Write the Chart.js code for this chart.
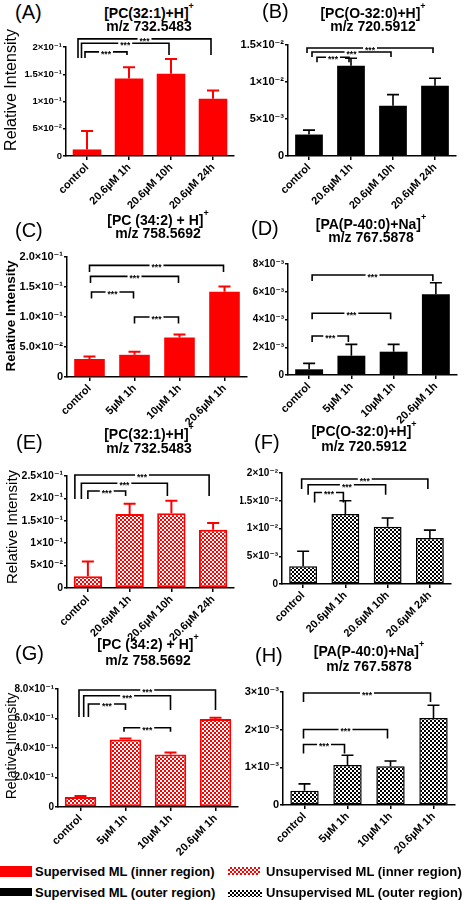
<!DOCTYPE html>
<html>
<head>
<meta charset="utf-8">
<script src="https://cdn.jsdelivr.net/npm/chart.js@4.4.1/dist/chart.umd.min.js"></script>
<style>
html,body{margin:0;padding:0;background:#fff;}
body{width:465px;height:900px;position:relative;overflow:hidden;font-family:"Liberation Sans",Arial,sans-serif;color:#000;}
canvas{position:absolute;}
.ttl{position:absolute;font-weight:bold;font-size:14px;line-height:14px;white-space:nowrap;transform:translate(-50%,-50%);}
.ttl sup{font-size:9px;line-height:0;position:relative;top:0px;vertical-align:top;}
.let{position:absolute;font-size:20px;line-height:20px;transform:translate(0,-50%);white-space:nowrap;}
.ri{position:absolute;white-space:nowrap;transform:translate(-50%,-50%) rotate(-90deg);line-height:1;}
.lg{position:absolute;font-weight:bold;font-size:13px;line-height:13px;white-space:nowrap;transform:translate(0,-50%);}
.sw{position:absolute;}
</style>
</head>
<body>
<script>
const FONT = '"Liberation Sans", Arial, "DejaVu Sans", sans-serif';

// ---------- categories ----------
const timeLabels = ['control', '20.6µM 1h', '20.6µM 10h', '20.6µM 24h'];
const doseLabels = ['control', '5µM 1h', '10µM 1h', '20.6µM 1h'];

// ---------- (A) supervised inner, PC(32:1) ----------
const valA = [0.012, 0.142, 0.151, 0.105];
const semA = [0.034, 0.021, 0.027, 0.015];
const tickA = [0, 0.05, 0.10, 0.15, 0.20];
const tickLabA = ['0', '5×10⁻²', '1×10⁻¹', '1.5×10⁻¹', '2×10⁻¹'];
const sigA = [[0, 1, 0.191], [0, 2, 0.207], [0, 3, 0.215]];

// ---------- (B) supervised outer, PC(O-32:0) ----------
const valB = [0.0029, 0.0122, 0.0068, 0.0095];
const semB = [0.0006, 0.0010, 0.0015, 0.0010];
const tickB = [0, 0.005, 0.010, 0.015];
const tickLabB = ['0', '5×10⁻³', '1×10⁻²', '1.5×10⁻²'];
const sigB = [[0, 1, 0.01334], [0, 2, 0.01405], [0, 3, 0.01459]];

// ---------- (C) supervised inner, PC(34:2) ----------
const valC = [0.030, 0.037, 0.066, 0.142];
const semC = [0.004, 0.005, 0.005, 0.009];
const tickC = [0, 0.05, 0.10, 0.15, 0.20];
const tickLabC = ['0', '5.0×10⁻²', '1.0×10⁻¹', '1.5×10⁻¹', '2.0×10⁻¹'];
const sigC = [[0, 1, 0.1417], [0, 2, 0.1677], [0, 3, 0.186], [1, 2, 0.100]];

// ---------- (D) supervised outer, PA(P-40:0) ----------
const valD = [0.00041, 0.00139, 0.00168, 0.00582];
const semD = [0.00043, 0.00082, 0.00053, 0.00083];
const tickD = [0, 0.002, 0.004, 0.006, 0.008];
const tickLabD = ['0', '2×10⁻³', '4×10⁻³', '6×10⁻³', '8×10⁻³'];
const sigD = [[0, 1, 0.00281], [0, 2, 0.00445], [0, 3, 0.00721]];

// ---------- (E) unsupervised inner, PC(32:1) ----------
const valE = [0.026, 0.165, 0.167, 0.130];
const semE = [0.033, 0.023, 0.028, 0.015];
const tickE = [0, 0.05, 0.10, 0.15, 0.20, 0.25];
const tickLabE = ['0', '5×10⁻²', '1×10⁻¹', '1.5×10⁻¹', '2×10⁻¹', '2.5×10⁻¹'];
const sigE = [[0, 1, 0.2166], [0, 2, 0.2337], [0, 3, 0.2522]];

// ---------- (F) unsupervised outer, PC(O-32:0) ----------
const valF = [0.0032, 0.0126, 0.0103, 0.0083];
const semF = [0.0027, 0.0024, 0.0016, 0.0014];
const tickF = [0, 0.005, 0.010, 0.015, 0.020];
const tickLabF = ['0', '5×10⁻³', '1×10⁻²', '1.5×10⁻²', '2×10⁻²'];
const sigF = [[0, 1, 0.0165], [0, 2, 0.01789], [0, 3, 0.01892]];

// ---------- (G) unsupervised inner, PC(34:2) ----------
const valG = [0.068, 0.458, 0.356, 0.596];
const semG = [0.007, 0.007, 0.014, 0.009];
const tickG = [0, 0.2, 0.4, 0.6, 0.8];
const tickLabG = ['0', '2.0×10⁻¹', '4.0×10⁻¹', '6.0×10⁻¹', '8.0×10⁻¹'];
const sigG = [[0, 1, 0.698], [0, 2, 0.754], [0, 3, 0.793], [1, 2, 0.537]];

// ---------- (H) unsupervised outer, PA(P-40:0) ----------
const valH = [0.00038, 0.00106, 0.00103, 0.00231];
const semH = [0.00018, 0.00026, 0.00014, 0.00034];
const tickH = [0, 0.001, 0.002, 0.003];
const tickLabH = ['0', '1×10⁻³', '2×10⁻³', '3×10⁻³'];
const sigH = [[0, 1, 0.001607], [0, 2, 0.002004], [0, 3, 0.002974]];

// ---------- titles / legend text ----------
const panelLetters = ['(A)', '(B)', '(C)', '(D)', '(E)', '(F)', '(G)', '(H)'];
const titleLine1 = ['[PC(32:1)+H]', '[PC(O-32:0)+H]', '[PC (34:2) + H]', '[PA(P-40:0)+Na]',
                    '[PC(32:1)+H]', '[PC(O-32:0)+H]', '[PC (34:2) + H]', '[PA(P-40:0)+Na]'];
const titleLine2 = ['m/z 732.5483', 'm/z 720.5912', 'm/z 758.5692', 'm/z 767.5878',
                    'm/z 732.5483', 'm/z 720.5912', 'm/z 758.5692', 'm/z 767.5878'];
const yTitle = 'Relative Intensity';
const legendLabels = ['Supervised ML (inner region)', 'Unsupervised ML (inner region)',
                      'Supervised ML (outer region)', 'Unsupervised ML (outer region)'];

// ---------- helpers ----------
function checker(color) {
  const c = document.createElement('canvas');
  c.width = 4; c.height = 4;
  const g = c.getContext('2d');
  g.fillStyle = '#fff'; g.fillRect(0, 0, 4, 4);
  g.fillStyle = color; g.fillRect(0, 0, 2, 2); g.fillRect(2, 2, 2, 2);
  return g.createPattern(c, 'repeat');
}

function errPlugin(sem, color, lw, cap) {
  return {
    id: 'errbars',
    afterDatasetsDraw(chart) {
      const ctx = chart.ctx, ys = chart.scales.y, ds = chart.data.datasets[0];
      const meta = chart.getDatasetMeta(0);
      ctx.save();
      ctx.strokeStyle = color; ctx.lineWidth = lw;
      meta.data.forEach((bar, i) => {
        const top = ys.getPixelForValue(ds.data[i] + sem[i]);
        ctx.beginPath();
        ctx.moveTo(bar.x, bar.y); ctx.lineTo(bar.x, top);
        ctx.moveTo(bar.x - cap, top); ctx.lineTo(bar.x + cap, top);
        ctx.stroke();
      });
      ctx.restore();
    }
  };
}

function sigPlugin(sig, st) {
  return {
    id: 'sigbrackets',
    afterDraw(chart) {
      const ctx = chart.ctx, xs = chart.scales.x, ys = chart.scales.y;
      ctx.save();
      ctx.strokeStyle = '#000'; ctx.lineWidth = 1.6;
      sig.forEach(b => {
        const [i, j, v] = b;
        const same = sig.filter(s => s[0] === i);
        const sorted = same.slice().sort((a, c) => c[2] - a[2]);
        const r = sorted.indexOf(b);
        const y = ys.getPixelForValue(v);
        const xl = xs.getPixelForValue(i) + st.base + r * st.step;
        const xr = xs.getPixelForValue(j) + st.rs;
        let yl, yr;
        if (st.common && same.length > 1) {
          const low = ys.getPixelForValue(Math.min(...same.map(s => s[2])));
          yl = low + st.cl; yr = low + st.cr;
        } else {
          yl = y + st.leg; yr = y + st.leg;
        }
        ctx.beginPath();
        ctx.moveTo(xl, yl); ctx.lineTo(xl, y); ctx.lineTo(xr, y); ctx.lineTo(xr, yr);
        ctx.stroke();
        ctx.font = 'bold 8.5px ' + FONT;
        const tx = (xl + xr) / 2, w = ctx.measureText('***').width;
        ctx.fillStyle = '#fff'; ctx.fillRect(tx - w / 2 - 2, y - 2, w + 4, 4);
        ctx.fillStyle = '#000'; ctx.textAlign = 'center'; ctx.textBaseline = 'alphabetic';
        ctx.fillText('***', tx, y + 4.8);
      });
      ctx.restore();
    }
  };
}

// ---------- panel layout (positions & styles only) ----------
const panels = [
  {labels: timeLabels, val: valA, sem: semA, ticks: tickA, tl: tickLabA, sig: sigA, fill: 'red', tfs: 9.5, bp: 0.68,
   box: {x: 0, y: 28, w: 250, h: 190}, area: {l: 66, t: 47, r: 234, b: 156},
   st: {base: -9, step: 3.5, rs: -2, common: true, cl: 6, cr: 3, leg: 5}},
  {labels: timeLabels, val: valB, sem: semB, ticks: tickB, tl: tickLabB, sig: sigB, fill: 'black', tfs: 11, bp: 0.66,
   box: {x: 240, y: 28, w: 225, h: 190}, area: {l: 288, t: 45, r: 456, b: 156},
   st: {base: -2, step: 5, rs: -2, common: false, leg: 5}},
  {labels: doseLabels, val: valC, sem: semC, ticks: tickC, tl: tickLabC, sig: sigC, fill: 'red', tfs: 11, bp: 0.68,
   box: {x: 0, y: 240, w: 250, h: 200}, area: {l: 67, t: 257, r: 247, b: 377},
   st: {base: 0, step: 1, rs: -1, common: false, leg: 6.5}},
  {labels: doseLabels, val: valD, sem: semD, ticks: tickD, tl: tickLabD, sig: sigD, fill: 'black', tfs: 10, bp: 0.66,
   box: {x: 240, y: 240, w: 225, h: 200}, area: {l: 288, t: 264, r: 457, b: 375},
   st: {base: 3, step: 0, rs: -3, common: false, leg: 6}},
  {labels: timeLabels, val: valE, sem: semE, ticks: tickE, tl: tickLabE, sig: sigE, fill: 'redCheck', tfs: 10.5, bp: 0.68,
   box: {x: 0, y: 455, w: 250, h: 200}, area: {l: 67, t: 476, r: 234, b: 588},
   st: {base: -13, step: 6.5, rs: -4, common: true, cl: 8, cr: 5, leg: 5}},
  {labels: timeLabels, val: valF, sem: semF, ticks: tickF, tl: tickLabF, sig: sigF, fill: 'blackCheck', tfs: 10, bp: 0.66,
   box: {x: 240, y: 455, w: 225, h: 200}, area: {l: 282, t: 473, r: 451, b: 584},
   st: {base: -1.5, step: 6.5, rs: -2, common: false, leg: 10}},
  {labels: doseLabels, val: valG, sem: semG, ticks: tickG, tl: tickLabG, sig: sigG, fill: 'redCheck', tfs: 10, bp: 0.7,
   box: {x: 0, y: 670, w: 250, h: 188}, area: {l: 58, t: 689, r: 238, b: 807},
   st: {base: -1.5, step: 4.7, rs: 0, common: true, cl: 13, cr: 6, leg: 4}},
  {labels: doseLabels, val: valH, sem: semH, ticks: tickH, tl: tickLabH, sig: sigH, fill: 'blackCheck', tfs: 11, bp: 0.66,
   box: {x: 240, y: 670, w: 225, h: 188}, area: {l: 283, t: 692, r: 455, b: 805},
   st: {base: -1, step: 0, rs: -3, common: false, leg: 9}}
];

const titlePos = [
  {lx: 15, ly: 12, cx: 149, y1: 13, y2: 26},
  {lx: 262, ly: 11, cx: 373, y1: 13, y2: 26},
  {lx: 15, ly: 230, cx: 158, y1: 220, y2: 233},
  {lx: 251, ly: 228, cx: 371, y1: 224, y2: 237},
  {lx: 16, ly: 442, cx: 149, y1: 434, y2: 448},
  {lx: 254, ly: 442, cx: 364, y1: 431, y2: 446},
  {lx: 15, ly: 653, cx: 148, y1: 644, y2: 660},
  {lx: 255, ly: 655, cx: 369, y1: 651, y2: 666}
];
const yTitlePos = [
  {x: 11, y: 90, fs: 16, b: false},
  {x: 11, y: 316, fs: 13.5, b: true},
  {x: 11, y: 527, fs: 15, b: false},
  {x: 11, y: 746, fs: 14, b: false}
];

// ---------- build charts ----------
panels.forEach(p => {
  const cv = document.createElement('canvas');
  cv.width = p.box.w; cv.height = p.box.h;
  cv.style.left = p.box.x + 'px'; cv.style.top = p.box.y + 'px';
  document.body.appendChild(cv);
  const W = p.area.l - p.box.x, H = p.box.y + p.box.h - p.area.b;
  const pt = p.area.t - p.box.y, pr = p.box.x + p.box.w - p.area.r;
  const isRed = p.fill === 'red' || p.fill === 'redCheck';
  const col = isRed ? '#ff0000' : '#000000';
  let bg = col, bw = 0;
  if (p.fill === 'redCheck') { bg = checker('#ff0000'); bw = 2; }
  if (p.fill === 'blackCheck') { bg = checker('#000000'); bw = 1.5; }
  const tks = p.ticks, tl = p.tl;
  new Chart(cv, {
    type: 'bar',
    data: {
      labels: p.labels,
      datasets: [{
        data: p.val, backgroundColor: bg, borderColor: col, borderWidth: bw, borderSkipped: false,
        barPercentage: p.bp, categoryPercentage: 1
      }]
    },
    options: {
      responsive: false, animation: false, devicePixelRatio: 1,
      layout: {padding: {top: pt, right: pr, left: 0, bottom: 0}},
      plugins: {legend: {display: false}, tooltip: {enabled: false}, title: {display: false}},
      scales: {
        x: {
          type: 'category', offset: true,
          grid: {display: true, drawOnChartArea: false, offset: false, tickLength: 4, color: '#000', lineWidth: 1.5},
          border: {display: true, color: '#000', width: 1.5},
          ticks: {color: '#000', font: {family: FONT, size: 11, weight: 'bold'}, minRotation: 45, maxRotation: 45, autoSkip: false, padding: 1},
          afterFit(s) { s.height = H; }
        },
        y: {
          type: 'linear', min: 0, max: tks[tks.length - 1],
          grid: {display: true, drawOnChartArea: false, tickLength: 3, color: '#000', lineWidth: 1.5},
          border: {display: true, color: '#000', width: 1.5},
          ticks: {color: '#000', font: {family: FONT, size: p.tfs, weight: 'bold'}, padding: 1,
                  callback: (v, i) => tl[i]},
          afterBuildTicks(s) { s.ticks = tks.map(v => ({value: v})); },
          afterFit(s) { s.width = W; }
        }
      }
    },
    plugins: [errPlugin(p.sem, col, isRed ? 2 : 1.6, 6), sigPlugin(p.sig, p.st)]
  });
});

// ---------- text ----------
function addDiv(cls, html, css) {
  const d = document.createElement('div');
  d.className = cls; d.innerHTML = html;
  Object.assign(d.style, css);
  document.body.appendChild(d);
  return d;
}
titlePos.forEach((t, k) => {
  addDiv('let', panelLetters[k], {left: t.lx + 'px', top: t.ly + 'px'});
  addDiv('ttl', titleLine1[k] + '<sup>+</sup>', {left: t.cx + 'px', top: t.y1 + 'px'});
  addDiv('ttl', titleLine2[k], {left: t.cx + 'px', top: t.y2 + 'px'});
});
yTitlePos.forEach(t => {
  addDiv('ri', yTitle, {left: t.x + 'px', top: t.y + 'px', fontSize: t.fs + 'px', fontWeight: t.b ? 'bold' : 'normal'});
});

// ---------- legend ----------
addDiv('sw', '', {left: '0px', top: '866px', width: '32px', height: '11px', background: '#ff0000'});
addDiv('sw', '', {left: '228px', top: '867px', width: '32px', height: '8px',
  background: 'repeating-conic-gradient(#ff0000 0% 25%, #ffffff 0% 50%) 0 0 / 4px 4px'});
addDiv('sw', '', {left: '0px', top: '888px', width: '32px', height: '8px', background: '#000'});
addDiv('sw', '', {left: '228px', top: '890px', width: '34px', height: '7px',
  background: 'repeating-conic-gradient(#000 0% 25%, #ffffff 0% 50%) 0 0 / 4px 4px'});
addDiv('lg', legendLabels[0], {left: '35px', top: '871px'});
addDiv('lg', legendLabels[1], {left: '266px', top: '871px'});
addDiv('lg', legendLabels[2], {left: '35px', top: '892px'});
addDiv('lg', legendLabels[3], {left: '266px', top: '892px'});
</script>
</body>
</html>
